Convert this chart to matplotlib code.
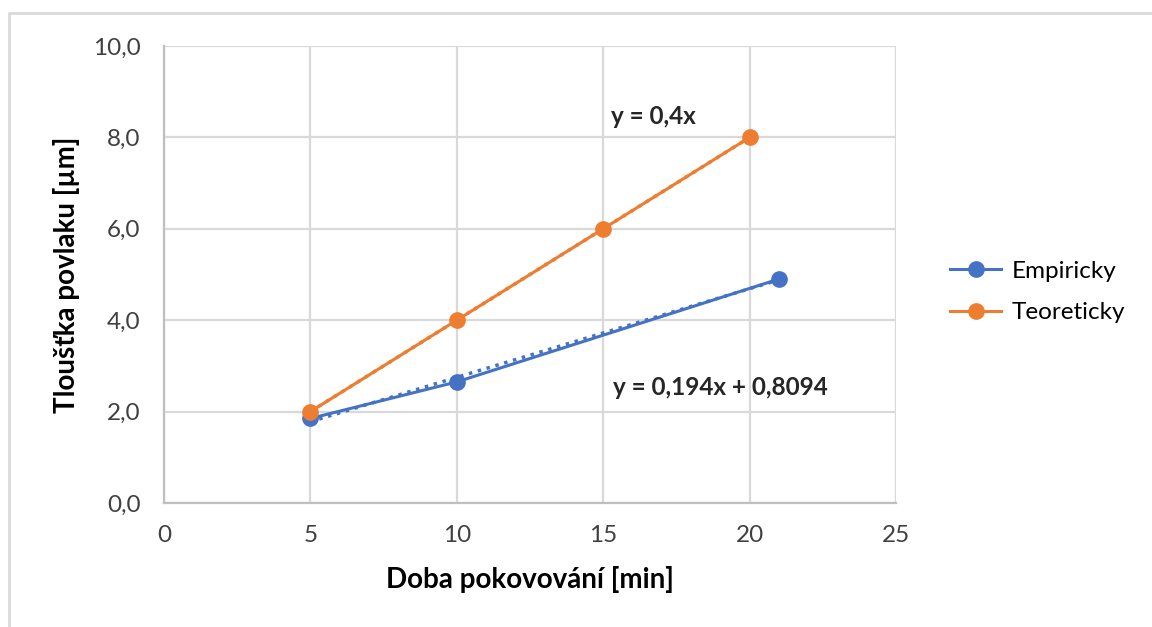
import numpy as np
import matplotlib.pyplot as plt
from matplotlib.lines import Line2D

plt.rcParams['font.family'] = ['Lato', 'DejaVu Sans']

# data
emp_x = [5, 10, 21]
emp_y = [1.85, 2.65, 4.9]
teo_x = [5, 10, 15, 20]
teo_y = [2.0, 4.0, 6.0, 8.0]
emp_fit = (0.194, 0.8094)
teo_fit = (0.4, 0.0)

blue = '#4472C4'
orange = '#ED7D31'
grid = '#d9d9d9'

fig = plt.figure(figsize=(11.52, 6.27), dpi=100)
ax = fig.add_axes([164/1152, 1-503/627, (896-164)/1152, (503-46)/627])

# trendlines (dotted)
xx = np.array([emp_x[0], emp_x[-1]])
ax.plot(xx, emp_fit[0]*xx + emp_fit[1], ':', color=blue, lw=2.5, zorder=3)
xx = np.array([teo_x[0], teo_x[-1]])
ax.plot(xx, teo_fit[0]*xx + teo_fit[1], ':', color=orange, lw=2.5, zorder=3)

ax.plot(emp_x, emp_y, '-o', color=blue, lw=2.2, ms=11, label='Empiricky', zorder=4)
ax.plot(teo_x, teo_y, '-o', color=orange, lw=2.2, ms=11, label='Teoreticky', zorder=5)

ax.text(15.25, 8.45, 'y = 0,4x', fontsize=17.5, fontweight='bold', va='center', color='#262626')
ax.text(15.35, 2.52, 'y = 0,194x + 0,8094', fontsize=17.5, fontweight='bold', va='center', color='#262626')

ax.set_xlim(0, 25)
ax.set_ylim(0, 10)
ax.set_xticks(range(0, 26, 5))
ax.set_yticks(np.arange(0, 10.1, 2))
ax.set_yticklabels([f'{v:.1f}'.replace('.', ',') for v in np.arange(0, 10.1, 2)])
ax.tick_params(labelsize=17.5, length=0, colors='#404040')
ax.tick_params(axis='y', pad=17)
ax.tick_params(axis='x', pad=16)
ax.grid(True, color=grid, lw=1.6)
ax.set_axisbelow(True)
for s in ['top', 'right']:
    ax.spines[s].set_visible(False)
for s in ['left', 'bottom']:
    ax.spines[s].set_color('#bfbfbf')
    ax.spines[s].set_linewidth(1.6)

ax.set_xlabel('Doba pokovování [min]', fontsize=20, fontweight='bold', labelpad=14)
ax.set_ylabel('Tloušťka povlaku [µm]', fontsize=20, fontweight='bold', labelpad=9)

fig.legend(loc='center left', bbox_to_anchor=(950/1152, 1-292/627), frameon=False,
           fontsize=17.5, handlelength=2.1, handletextpad=0.45, labelspacing=0.85,
           borderpad=0, borderaxespad=0)

# outer chart frame
fig.add_artist(Line2D([9/1152, 9/1152, 1], [0, 1-13/627, 1-13/627],
                      transform=fig.transFigure, color=grid, lw=2))

fig.savefig('out.png', dpi=100)
